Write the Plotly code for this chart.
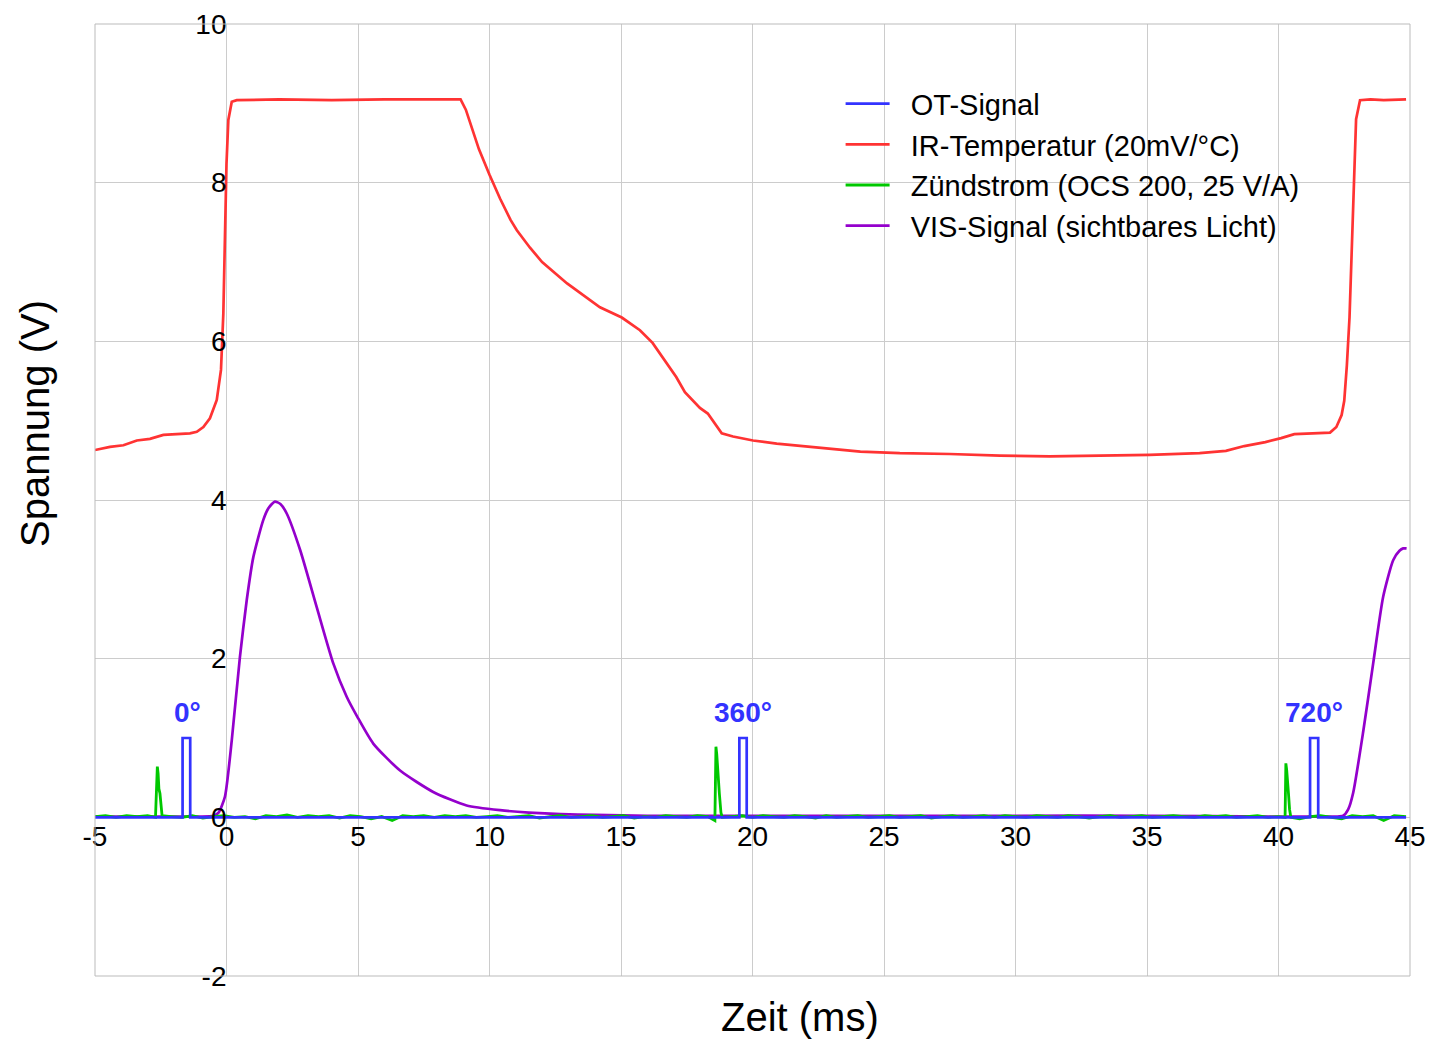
import plotly.graph_objects as go

# ---------------- data ----------------
# OT signal (top dead centre marker)
ot_t = [-5.0, -1.67, -1.67, -1.38, -1.38, 19.50, 19.50, 19.78, 19.78, 41.20, 41.20, 41.51, 41.51, 44.85]
ot_v = [0.0, 0.0, 1.0, 1.0, 0.0, 0.0, 1.0, 1.0, 0.0, 0.0, 1.0, 1.0, 0.0, 0.0]

# IR temperature
ir_t = [-5.0, -4.43, -3.92, -3.41, -2.91, -2.4, -1.39, -1.13, -0.88, -0.63, -0.37, -0.21, -0.12, -0.06,
        0.0, 0.07, 0.2, 0.39, 2, 4, 6, 8, 8.9, 9.1, 9.3, 9.6, 10.0, 10.4, 10.8, 11.04, 11.54, 12.0,
        12.95, 13.5, 14.2, 15.03, 15.72, 16.2, 16.73, 17.1, 17.43, 18.0, 18.3, 18.55, 18.83, 19.26,
        20.02, 20.92, 22.6, 24.1, 25.6, 27.5, 29.4, 31.3, 33.2, 35.1, 37.0, 38.0, 38.7, 39.5, 40.1,
        40.6, 41.3, 41.96, 42.2, 42.4, 42.5, 42.6, 42.7, 42.85, 42.95, 43.1, 43.5, 44.0, 44.85]
ir_v = [4.63, 4.67, 4.69, 4.75, 4.77, 4.82, 4.84, 4.86, 4.92, 5.03, 5.26, 5.64, 6.35, 7.40,
        8.24, 8.79, 9.02, 9.04, 9.05, 9.04, 9.05, 9.05, 9.05, 8.92, 8.72, 8.42, 8.1, 7.8, 7.53, 7.40,
        7.18, 7.0, 6.73, 6.6, 6.43, 6.30, 6.14, 5.98, 5.72, 5.55, 5.36, 5.16, 5.09, 4.97, 4.84, 4.80,
        4.75, 4.71, 4.66, 4.61, 4.59, 4.58, 4.56, 4.55, 4.56, 4.57, 4.59, 4.62, 4.68, 4.73, 4.78,
        4.83, 4.84, 4.85, 4.92, 5.07, 5.25, 5.7, 6.3, 7.8, 8.8, 9.04, 9.05, 9.04, 9.05]

# Ignition current
zs_t = [-5.0, -4.6, -4.2, -3.8, -3.4, -3.0, -2.7,
        -2.63, -2.6, -2.57, -2.53, -2.49, -2.45,
        -2.1, -1.7, -1.3, -0.9, -0.5, -0.1, 0.3, 0.7, 1.1, 1.5, 1.9, 2.3, 2.7, 3.1, 3.5, 3.9, 4.3,
        4.7, 5.1, 5.5, 5.9, 6.3, 6.7, 7.1, 7.5, 7.9, 8.3, 8.7, 9.1, 9.5, 9.9, 10.3, 10.7, 11.1, 11.5,
        11.9, 12.3, 12.7, 13.1, 13.5, 13.9, 14.3, 14.7, 15.1, 15.5, 15.9, 16.3, 16.7, 17.1, 17.5,
        17.9, 18.3, 18.57,
        18.61, 18.64, 18.67, 18.7, 18.74, 18.8, 18.85,
        19.2, 19.6, 20.0, 20.4, 20.8, 21.2, 21.6, 22.0, 22.4, 22.8, 23.2, 23.6, 24.0, 24.4, 24.8,
        25.2, 25.6, 26.0, 26.4, 26.8, 27.2, 27.6, 28.0, 28.4, 28.8, 29.2, 29.6, 30.0, 30.4, 30.8,
        31.2, 31.6, 32.0, 32.4, 32.8, 33.2, 33.6, 34.0, 34.4, 34.8, 35.2, 35.6, 36.0, 36.4, 36.8,
        37.2, 37.6, 38.0, 38.4, 38.8, 39.2, 39.6, 40.0, 40.25,
        40.28, 40.31, 40.34, 40.38, 40.42, 40.47,
        40.8, 41.2, 41.6, 42.0, 42.4, 42.8, 43.2, 43.6, 44.0, 44.4, 44.85]
zs_v = [0.01, 0.02, 0.0, 0.02, 0.01, 0.02, 0.0,
        0.64, 0.55, 0.36, 0.30, 0.12, 0.02,
        0.01, 0.0, 0.02, -0.01, 0.01, 0.02, 0.0, 0.01, -0.02, 0.02, 0.01, 0.03, 0.0, 0.02, 0.01, 0.02, -0.01,
        0.02, 0.01, -0.02, 0.01, -0.04, 0.02, 0.01, 0.02, 0.0, 0.02, 0.01, 0.02, 0.0, 0.01, 0.02, 0.0, 0.01, 0.02,
        -0.01, 0.01, 0.02, 0.0, 0.01, 0.02, 0.0, 0.01, 0.02, -0.01, 0.01, 0.0, 0.02, 0.01, 0.0,
        0.02, 0.01, -0.04,
        0.89, 0.80, 0.60, 0.45, 0.30, 0.06, 0.0,
        0.01, 0.02, 0.0, 0.02, 0.01, 0.0, 0.02, 0.01, -0.01, 0.02, 0.0, 0.01, 0.02, 0.0, 0.01,
        0.02, 0.0, 0.01, 0.02, -0.01, 0.01, 0.02, 0.0, 0.01, 0.02, 0.0, 0.02, 0.01, 0.0, 0.02,
        0.01, 0.0, 0.02, 0.01, -0.01, 0.01, 0.02, 0.0, 0.01, 0.02, 0.0, 0.01, 0.02, 0.01, 0.0,
        0.02, 0.01, 0.02, 0.0, 0.01, 0.02, 0.0, 0.01, 0.0,
        0.68, 0.60, 0.50, 0.30, 0.10, 0.0,
        -0.02, 0.01, 0.02, 0.0, -0.02, 0.02, 0.01, 0.02, -0.04, 0.02, 0.01]

# VIS signal (visible light)
vis_t = [-5.0, -2.0, -1.0, -0.5, -0.3, -0.06, 0.2, 0.51, 0.77, 1.02, 1.4, 1.6, 1.84, 2.05, 2.29,
         2.8, 3.43, 4.06, 4.57, 4.97, 5.58, 6.6, 7.86, 9.13, 10.4, 11.5, 12.7, 14.0, 16.0, 20.0,
         25.0, 30.0, 35.0, 40.0, 41.5, 42.2, 42.46, 42.65, 42.84, 43.23, 43.6, 43.98, 44.36, 44.6,
         44.74, 44.87]
vis_v = [0.01, 0.01, 0.01, 0.02, 0.06, 0.26, 0.97, 2.02, 2.74, 3.28, 3.75, 3.9, 3.98, 3.95, 3.83,
         3.37, 2.65, 1.94, 1.52, 1.27, 0.93, 0.59, 0.32, 0.15, 0.09, 0.06, 0.04, 0.03, 0.02, 0.02,
         0.02, 0.02, 0.02, 0.01, 0.01, 0.01, 0.02, 0.1, 0.31, 1.1, 1.94, 2.78, 3.24, 3.36,
         3.39, 3.39]

names = ["OT-Signal", "IR-Temperatur (20mV/°C)", "Zündstrom (OCS 200, 25 V/A)", "VIS-Signal (sichtbares Licht)"]
colors = ["#3333ff", "#ff3333", "#00c800", "#9400cc"]

marker_labels = ["0°", "360°", "720°"]
marker_t = [-1.5, 19.62, 41.35]
marker_v = [1.32, 1.32, 1.32]

x_ticks = [-5, 0, 5, 10, 15, 20, 25, 30, 35, 40, 45]
x_tick_text = ["-5", "0", "5", "10", "15", "20", "25", "30", "35", "40", "45"]
y_ticks = [-2, 0, 2, 4, 6, 8, 10]
y_tick_text = ["-2", "0", "2", "4", "6", "8", "10"]

FONT = "Liberation Sans, Arial, Helvetica, sans-serif"
GAP = "\u00a0\u00a0"

# ---------------- figure ----------------
fig = go.Figure()
fig.add_trace(go.Scatter(x=vis_t, y=vis_v, name=GAP + names[3], mode="lines", legendrank=4,
                         line=dict(color=colors[3], width=2.7, shape="spline", smoothing=0.6)))
fig.add_trace(go.Scatter(x=ir_t, y=ir_v, name=GAP + names[1], mode="lines", legendrank=2,
                         line=dict(color=colors[1], width=2.7)))
fig.add_trace(go.Scatter(x=zs_t, y=zs_v, name=GAP + names[2], mode="lines", legendrank=3,
                         line=dict(color=colors[2], width=2.8)))
fig.add_trace(go.Scatter(x=ot_t, y=ot_v, name=GAP + names[0], mode="lines", legendrank=1,
                         line=dict(color=colors[0], width=2.7)))

for lab, t, v in zip(marker_labels, marker_t, marker_v):
    fig.add_annotation(x=t, y=v, xref="x", yref="y", text="<b>" + lab + "</b>", showarrow=False,
                       font=dict(family=FONT, size=28, color="#3333ff"))

# axis titles
fig.add_annotation(x=0.536, y=-0.043, xref="paper", yref="paper", text="Zeit (ms)", showarrow=False,
                   font=dict(family=FONT, size=40, color="black"), yanchor="middle")
fig.add_annotation(x=-0.0456, y=0.58, xref="paper", yref="paper", text="Spannung (V)", showarrow=False,
                   textangle=-90, font=dict(family=FONT, size=40, color="black"), xanchor="center")

# plot border
fig.add_shape(type="rect", xref="paper", yref="paper", x0=0, x1=1, y0=0, y1=1,
              line=dict(color="#bbbbbb", width=1))

fig.update_layout(
    width=1432, height=1033,
    margin=dict(l=87, r=30, t=16, b=65, autoexpand=False),
    paper_bgcolor="white", plot_bgcolor="white",
    font=dict(family=FONT, size=28, color="black"),
    showlegend=True,
    legend=dict(x=0.567, y=0.943, xanchor="left", yanchor="top", bgcolor="rgba(0,0,0,0)",
                font=dict(family=FONT, size=29, color="black"), itemwidth=44),
    xaxis=dict(range=[-5, 45], tickvals=x_ticks, ticktext=x_tick_text, showgrid=True,
               gridcolor="#cccccc", gridwidth=1, automargin=False,
               zeroline=False, showline=False, ticks="", anchor="free", position=1/6,
               tickfont=dict(family=FONT, size=28, color="black")),
    yaxis=dict(range=[-2, 10], tickvals=y_ticks, ticktext=y_tick_text, showgrid=True,
               gridcolor="#cccccc", gridwidth=1, automargin=False,
               zeroline=False, showline=False, ticks="", anchor="free", position=0.1,
               tickfont=dict(family=FONT, size=28, color="black")),
)

fig.write_html("out.html")
